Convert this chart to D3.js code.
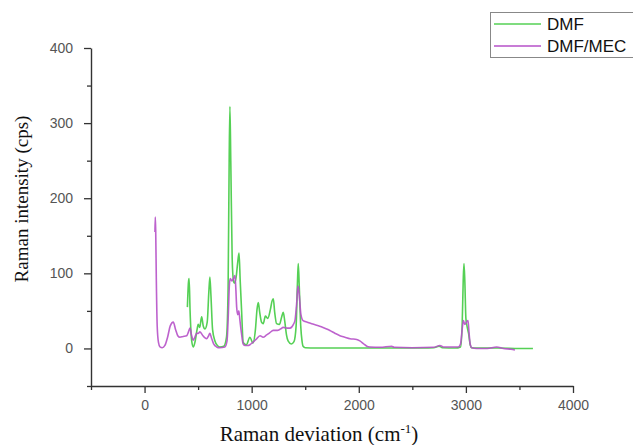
<!DOCTYPE html>
<html><head><meta charset="utf-8">
<script src="https://cdn.jsdelivr.net/npm/d3@7/dist/d3.min.js"></script>
<style>body{margin:0;background:#fff}svg{display:block}</style>
</head><body>
<svg id="c" width="633" height="445"></svg>
<script>
const seriesNames = ["DMF", "DMF/MEC"];
const xTicksMajor = [0, 1000, 2000, 3000, 4000];
const xTicksMinor = [-500, 500, 1500, 2500, 3500];
const yTicksMajor = [0, 100, 200, 300, 400];
const yTicksMinor = [-50, 50, 150, 250, 350];

const dmf = [
[400,55],[410,88],[416,93],[425,50],[440,10],[455,2],[470,8],[490,25],[501,32],[515,28],[533,42],[548,30],[564,26],[585,35],[600,75],[610,95],[620,70],[635,25],[657,10],[680,4],[704,2],[740,3],[765,15],[780,80],[790,250],[797,322],[805,250],[818,120],[830,90],[838,87],[855,95],[870,115],[882,127],[893,90],[906,50],[921,8],[950,5],[984,15],[1012,7],[1035,25],[1050,52],[1062,61],[1075,48],[1092,35],[1108,33],[1128,43],[1150,40],[1175,52],[1190,63],[1202,66],[1215,48],[1233,33],[1260,32],[1280,42],[1295,48],[1310,35],[1325,18],[1340,10],[1370,6],[1395,9],[1415,30],[1428,90],[1435,113],[1445,80],[1458,30],[1470,10],[1480,3],[1500,1],[1600,0.5],[1800,0.5],[2000,0.5],[2200,0.5],[2400,0.5],[2600,0.5],[2700,1],[2750,3],[2780,1],[2900,0.5],[2950,2],[2965,30],[2975,90],[2982,113],[2990,90],[3000,40],[3010,30],[3025,20],[3040,5],[3054,1],[3100,0.5],[3300,0.5],[3500,0],[3626,0]
];
const dmfMec = [
[97,155],[100,175],[104,158],[110,90],[118,30],[130,8],[144,2],[165,1],[190,4],[215,15],[240,30],[268,35],[290,25],[310,17],[330,15],[360,16],[393,17],[410,22],[424,27],[438,18],[455,11],[470,15],[486,20],[500,20],[517,22],[545,17],[565,14],[580,13],[595,16],[610,20],[625,14],[645,6],[673,2],[700,1],[750,2],[770,10],[782,45],[792,85],[800,93],[815,90],[830,93],[844,97],[852,80],[860,55],[870,45],[880,50],[890,38],[905,20],[921,6],[940,4],[965,4],[984,5],[1010,8],[1040,12],[1078,17],[1106,15],[1140,18],[1170,21],[1201,24],[1240,24],[1270,26],[1294,28],[1330,27],[1357,27],[1390,32],[1404,37],[1420,60],[1430,80],[1435,83],[1445,70],[1460,45],[1480,37],[1520,35],[1560,33],[1607,31],[1650,29],[1700,26],[1730,24],[1780,20],[1824,17],[1870,15],[1918,13],[1980,12],[2010,10],[2042,6.5],[2075,3],[2104,2],[2200,1.5],[2307,3],[2330,1.5],[2500,1],[2700,1.5],[2758,4],[2790,2],[2930,2],[2950,6],[2965,25],[2976,37],[2990,32],[3005,35],[3020,37],[3030,20],[3040,6],[3054,1],[3100,0],[3200,0],[3287,2],[3350,0],[3420,-1],[3458,-2]
];

const svg = d3.select("#c");
const x = d3.scaleLinear().domain([-500, 4000]).range([91, 573]);
const y = d3.scaleLinear().domain([-50, 400]).range([386, 48]);
const axisColor = "#333";
const labelColor = "#555";

// lines
const line = d3.line().x(d => x(d[0])).y(d => y(d[1])).curve(d3.curveMonotoneX);
svg.append("path").datum(dmf).attr("d", line).attr("fill","none")
  .attr("stroke","#55d055").attr("stroke-width",1.6).attr("stroke-linejoin","round");
svg.append("path").datum(dmfMec).attr("d", line).attr("fill","none")
  .attr("stroke","#b651c8").attr("stroke-width",1.6).attr("stroke-linejoin","round").attr("opacity",0.9);

// x axis
const fmt = d3.format("d");
const gx = svg.append("g").attr("transform", `translate(0,${y(-50)})`);
gx.call(d3.axisBottom(x).tickValues(xTicksMajor).tickFormat(fmt).tickSize(7).tickPadding(7).tickSizeOuter(0));
gx.append("g").call(d3.axisBottom(x).tickValues(xTicksMinor).tickSize(4).tickFormat("").tickSizeOuter(0))
  .select(".domain").remove();
// y axis
const gy = svg.append("g").attr("transform", `translate(${x(-500)},0)`);
gy.call(d3.axisLeft(y).tickValues(yTicksMajor).tickFormat(fmt).tickSize(7).tickPadding(11).tickSizeOuter(0));
gy.append("g").call(d3.axisLeft(y).tickValues(yTicksMinor).tickSize(4).tickFormat("").tickSizeOuter(0))
  .select(".domain").remove();

svg.selectAll(".domain").attr("stroke", axisColor).attr("stroke-width", 1.4);
svg.selectAll(".tick line").attr("stroke", axisColor).attr("stroke-width", 1.3);
svg.selectAll(".tick text").attr("fill", labelColor)
  .style("font-family", "'Liberation Sans', Arial, sans-serif").style("font-size", "14px");

// titles
svg.append("text").attr("x", 319).attr("y", 441).attr("text-anchor","middle")
  .style("font-family","'Liberation Serif', 'Times New Roman', serif").style("font-size","21px").attr("fill","#111")
  .html('Raman deviation (cm<tspan dy="-8" font-size="13px">-1</tspan><tspan dy="8">)</tspan>');
svg.append("text").attr("transform","translate(28,199) rotate(-90)").attr("text-anchor","middle")
  .style("font-family","'Liberation Serif', 'Times New Roman', serif").style("font-size","19px").attr("fill","#111")
  .text("Raman intensity (cps)");

// legend
const lg = svg.append("g");
lg.append("rect").attr("x", 490.5).attr("y", 12.5).attr("width", 160).attr("height", 45)
  .attr("fill","#fff").attr("stroke","#888").attr("stroke-width",1);
const legColors = ["#55d055", "#b651c8"];
seriesNames.forEach((n, i) => {
  const ly = 24 + i * 22;
  lg.append("line").attr("x1", 494).attr("x2", 541).attr("y1", ly).attr("y2", ly)
    .attr("stroke", legColors[i]).attr("stroke-width", 1.6);
  lg.append("text").attr("x", 547).attr("y", ly + 6).text(n)
    .style("font-family","'Liberation Sans', Arial, sans-serif").style("font-size","17px").attr("fill","#111");
});
</script>
</body></html>
